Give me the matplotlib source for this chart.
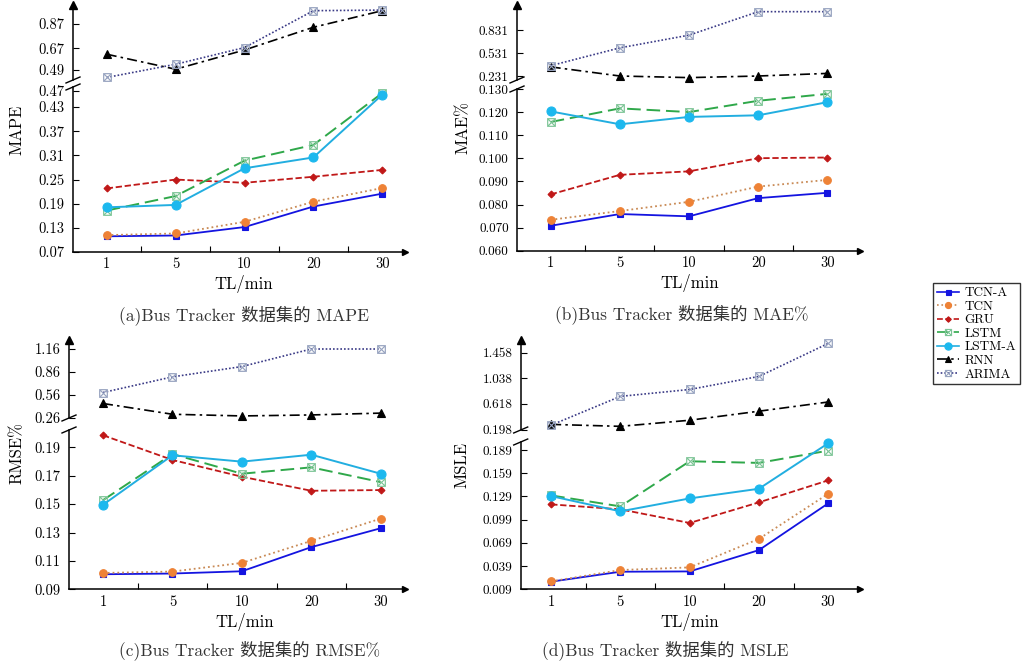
import matplotlib
matplotlib.use('Agg')
import matplotlib.pyplot as plt
from matplotlib.lines import Line2D
import numpy as np

plt.rcParams['font.family'] = ['cmr10', 'Noto Sans CJK SC', 'DejaVu Sans']
plt.rcParams['mathtext.fontset'] = 'cm'
plt.rcParams['axes.unicode_minus'] = False

# ---------------- data ----------------
tl_labels = ['1', '5', '10', '20', '30']
models = ['TCN-A', 'TCN', 'GRU', 'LSTM', 'LSTM-A', 'RNN', 'ARIMA']
upper_models = ['RNN', 'ARIMA']

mape = {
    'TCN-A':  [0.109, 0.111, 0.132, 0.183, 0.215],
    'TCN':    [0.112, 0.116, 0.145, 0.195, 0.229],
    'GRU':    [0.228, 0.250, 0.242, 0.257, 0.274],
    'LSTM':   [0.173, 0.209, 0.297, 0.336, 0.465],
    'LSTM-A': [0.181, 0.187, 0.278, 0.305, 0.461],
    'RNN':    [0.620, 0.496, 0.655, 0.843, 0.980],
    'ARIMA':  [0.428, 0.537, 0.675, 0.980, 0.985],
}
mae = {
    'TCN-A':  [0.0708, 0.0759, 0.0749, 0.0828, 0.0851],
    'TCN':    [0.0734, 0.0772, 0.0812, 0.0878, 0.0907],
    'GRU':    [0.0844, 0.0929, 0.0944, 0.1001, 0.1004],
    'LSTM':   [0.1158, 0.1217, 0.1201, 0.1250, 0.1280],
    'LSTM-A': [0.1204, 0.1148, 0.1180, 0.1187, 0.1244],
    'RNN':    [0.350, 0.231, 0.210, 0.231, 0.265],
    'ARIMA':  [0.366, 0.598, 0.764, 1.070, 1.070],
}
rmse = {
    'TCN-A':  [0.1006, 0.1011, 0.1027, 0.1197, 0.1330],
    'TCN':    [0.1015, 0.1025, 0.1086, 0.1241, 0.1398],
    'GRU':    [0.1985, 0.1811, 0.1693, 0.1594, 0.1599],
    'LSTM':   [0.1528, 0.1853, 0.1714, 0.1759, 0.1655],
    'LSTM-A': [0.1495, 0.1844, 0.1799, 0.1848, 0.1714],
    'RNN':    [0.446, 0.305, 0.283, 0.296, 0.320],
    'ARIMA':  [0.590, 0.795, 0.930, 1.160, 1.160],
}
msle = {
    'TCN-A':  [0.0189, 0.0317, 0.0321, 0.0596, 0.1200],
    'TCN':    [0.0193, 0.0339, 0.0373, 0.0741, 0.1324],
    'GRU':    [0.1187, 0.1123, 0.0947, 0.1213, 0.1497],
    'LSTM':   [0.1303, 0.1161, 0.1744, 0.1723, 0.1881],
    'LSTM-A': [0.1294, 0.1097, 0.1264, 0.1389, 0.1976],
    'RNN':    [0.282, 0.250, 0.350, 0.498, 0.649],
    'ARIMA':  [0.270, 0.741, 0.854, 1.068, 1.608],
}

mape_lo_ticks = [0.07, 0.13, 0.19, 0.25, 0.31, 0.37, 0.43, 0.47]
mape_up_ticks = [0.49, 0.67, 0.87]
mae_lo_ticks = [0.060, 0.070, 0.080, 0.090, 0.100, 0.110, 0.120, 0.130]
mae_up_ticks = [0.231, 0.531, 0.831]
rmse_lo_ticks = [0.09, 0.11, 0.13, 0.15, 0.17, 0.19]
rmse_up_ticks = [0.26, 0.56, 0.86, 1.16]
msle_lo_ticks = [0.009, 0.039, 0.069, 0.099, 0.129, 0.159, 0.189]
msle_up_ticks = [0.198, 0.618, 1.038, 1.458]

# ---------------- styles ----------------
BOX = r'$\boxtimes$'
styles = {
    'TCN-A':  dict(color='#1414e0', ls='-', lw=1.3, marker='s', ms=4.5, mfc='#1414e0', mec='#1414e0', mew=0.8),
    'TCN':    dict(color='#c98a55', ls=':', lw=1.3, marker='o', ms=5.5, mfc='#ee8236', mec='#ee8236', mew=0.8),
    'GRU':    dict(color='#c01818', ls=(0, (3.5, 1.5)), lw=1.3, marker='D', ms=3.5, mfc='#c01818', mec='#c01818', mew=0.8),
    'LSTM':   dict(color='#2fa84a', ls=(0, (7, 3)), lw=1.4, marker=BOX, ms=6.0, mfc='#a8dcb8', mec='#7cc496', mew=0.4),
    'LSTM-A': dict(color='#22aee0', ls='-', lw=1.4, marker='o', ms=6.5, mfc='#1cb8ee', mec='#1cb8ee', mew=0.8),
    'RNN':    dict(color='black', ls=(0, (6, 2.5, 1.5, 2.5)), lw=1.2, marker='^', ms=5.5, mfc='black', mec='black', mew=0.8),
    'ARIMA':  dict(color='#3a3a86', ls=(0, (1, 1.2)), lw=1.2, marker=BOX, ms=6.0, mfc='#aab4cc', mec='#98a4c0', mew=0.4),
}

W, H = 1028, 665
fig = plt.figure(figsize=(W / 100, H / 100), dpi=100)


def box(x0, x1, ytop, ybot):
    return [x0 / W, 1 - ybot / H, (x1 - x0) / W, (ybot - ytop) / H]


panels = [
    dict(data=mape, lo_ticks=mape_lo_ticks, up_ticks=mape_up_ticks, fmt='%.2f', tfs=10.5,
         lo=(73, 405, 87, 252), up=(73, 405, 5, 80), lo_lim=(0.07, 0.48), up_lim=(0.407, 1.027),
         xlim=(-0.49, 4.33), ylabel='MAPE', ylab_xy=(17, 130), xlab_xy=(244, 284),
         caption='(a)Bus Tracker 数据集的 MAPE', cap_xy=(244, 315)),
    dict(data=mae, lo_ticks=mae_lo_ticks, up_ticks=mae_up_ticks, fmt='%.3f', tfs=9.5,
         lo=(517, 860, 89, 250.7), up=(517, 860, 5, 80), lo_lim=(0.06, 0.1301), up_lim=(0.179, 1.157),
         xlim=(-0.487, 4.47), ylabel='MAE%', ylab_xy=(463, 128), xlab_xy=(690, 283),
         caption='(b)Bus Tracker 数据集的 MAE%', cap_xy=(682, 314)),
    dict(data=rmse, lo_ticks=rmse_lo_ticks, up_ticks=rmse_up_ticks, fmt='%.2f', tfs=10.5,
         lo=(69, 405, 430, 589.3), up=(69, 405, 340, 418), lo_lim=(0.09, 0.2022), up_lim=(0.256, 1.278),
         xlim=(-0.49, 4.35), ylabel='RMSE%', ylab_xy=(17, 453), xlab_xy=(245, 622),
         caption='(c)Bus Tracker 数据集的 RMSE%', cap_xy=(250, 650)),
    dict(data=msle, lo_ticks=msle_lo_ticks, up_ticks=msle_up_ticks, fmt='%.3f', tfs=9.5,
         lo=(520.7, 860, 442, 589.3), up=(520.7, 860, 340, 430), lo_lim=(0.009, 0.1993), up_lim=(0.19, 1.665),
         xlim=(-0.44, 4.46), ylabel='MSLE', ylab_xy=(462, 465), xlab_xy=(690, 622),
         caption='(d)Bus Tracker 数据集的 MSLE', cap_xy=(665, 650)),
]

x = np.arange(len(tl_labels))

for p in panels:
    ax_lo = fig.add_axes(box(*p['lo']))
    ax_up = fig.add_axes(box(*p['up']))
    for name in models:
        st = styles[name]
        target = ax_up if name in upper_models else ax_lo
        target.plot(x, p['data'][name], color=st['color'], linestyle=st['ls'], linewidth=st['lw'],
                    marker=st['marker'], markersize=st['ms'], markerfacecolor=st['mfc'],
                    markeredgecolor=st['mec'], markeredgewidth=st['mew'], clip_on=False, zorder=3)

    for ax in (ax_lo, ax_up):
        ax.set_xlim(*p['xlim'])
        ax.spines['top'].set_visible(False)
        ax.spines['right'].set_visible(False)
        ax.spines['left'].set_linewidth(1.1)
        ax.patch.set_alpha(0)
        ax.tick_params(axis='y', direction='in', length=4, width=0.8, labelsize=p['tfs'], pad=6)

    ax_lo.set_ylim(*p['lo_lim'])
    ax_up.set_ylim(*p['up_lim'])
    ax_lo.set_yticks(p['lo_ticks'])
    ax_lo.set_yticklabels([p['fmt'] % v for v in p['lo_ticks']])
    ax_up.set_yticks(p['up_ticks'])
    ax_up.set_yticklabels([p['fmt'] % v for v in p['up_ticks']])

    ax_up.spines['bottom'].set_visible(False)
    ax_up.set_xticks([])

    ax_lo.spines['bottom'].set_linewidth(1.1)
    ax_lo.set_xticks(x)
    ax_lo.set_xticklabels(tl_labels)
    ax_lo.set_xticks(x[:-1] + 0.5, minor=True)
    ax_lo.tick_params(axis='x', which='major', length=0, labelsize=10.5, pad=4)
    ax_lo.tick_params(axis='x', which='minor', direction='in', length=4, width=0.8)

    # arrow heads
    ax_up.plot(0, 1, marker='^', color='black', ms=6, transform=ax_up.transAxes, clip_on=False)
    ax_lo.plot(1, 0, marker='>', color='black', ms=5, transform=ax_lo.transAxes, clip_on=False)

    # axis break marks
    xl = p['lo'][0]
    for yb in (p['up'][3], p['lo'][2]):
        fig.add_artist(Line2D([(xl - 7) / W, (xl + 7) / W], [1 - (yb + 3) / H, 1 - (yb - 3) / H],
                              color='black', lw=1.0))

    fig.text(p['ylab_xy'][0] / W, 1 - p['ylab_xy'][1] / H, p['ylabel'], rotation=90,
             ha='center', va='center', fontsize=12)
    fig.text(p['xlab_xy'][0] / W, 1 - p['xlab_xy'][1] / H, 'TL/min', ha='center', va='center', fontsize=12)
    fig.text(p['cap_xy'][0] / W, 1 - p['cap_xy'][1] / H, p['caption'], ha='center', va='center',
             fontsize=12.5, color='#333333')

handles = [Line2D([], [], color=styles[m]['color'], linestyle=styles[m]['ls'], linewidth=1.2,
                  marker=styles[m]['marker'], markersize=styles[m]['ms'] * 0.8,
                  markerfacecolor=styles[m]['mfc'], markeredgecolor=styles[m]['mec'],
                  markeredgewidth=styles[m]['mew'])
           for m in models]
leg = fig.legend(handles, models, loc='upper left', bbox_to_anchor=(933 / W, 1 - 283 / H),
                 frameon=True, fancybox=False, edgecolor='black', fontsize=9.5, handlelength=1.7,
                 handletextpad=0.4, labelspacing=0.1, borderpad=0.3, borderaxespad=0)
leg.get_frame().set_linewidth(1.0)

fig.savefig('out.png', dpi=100)
